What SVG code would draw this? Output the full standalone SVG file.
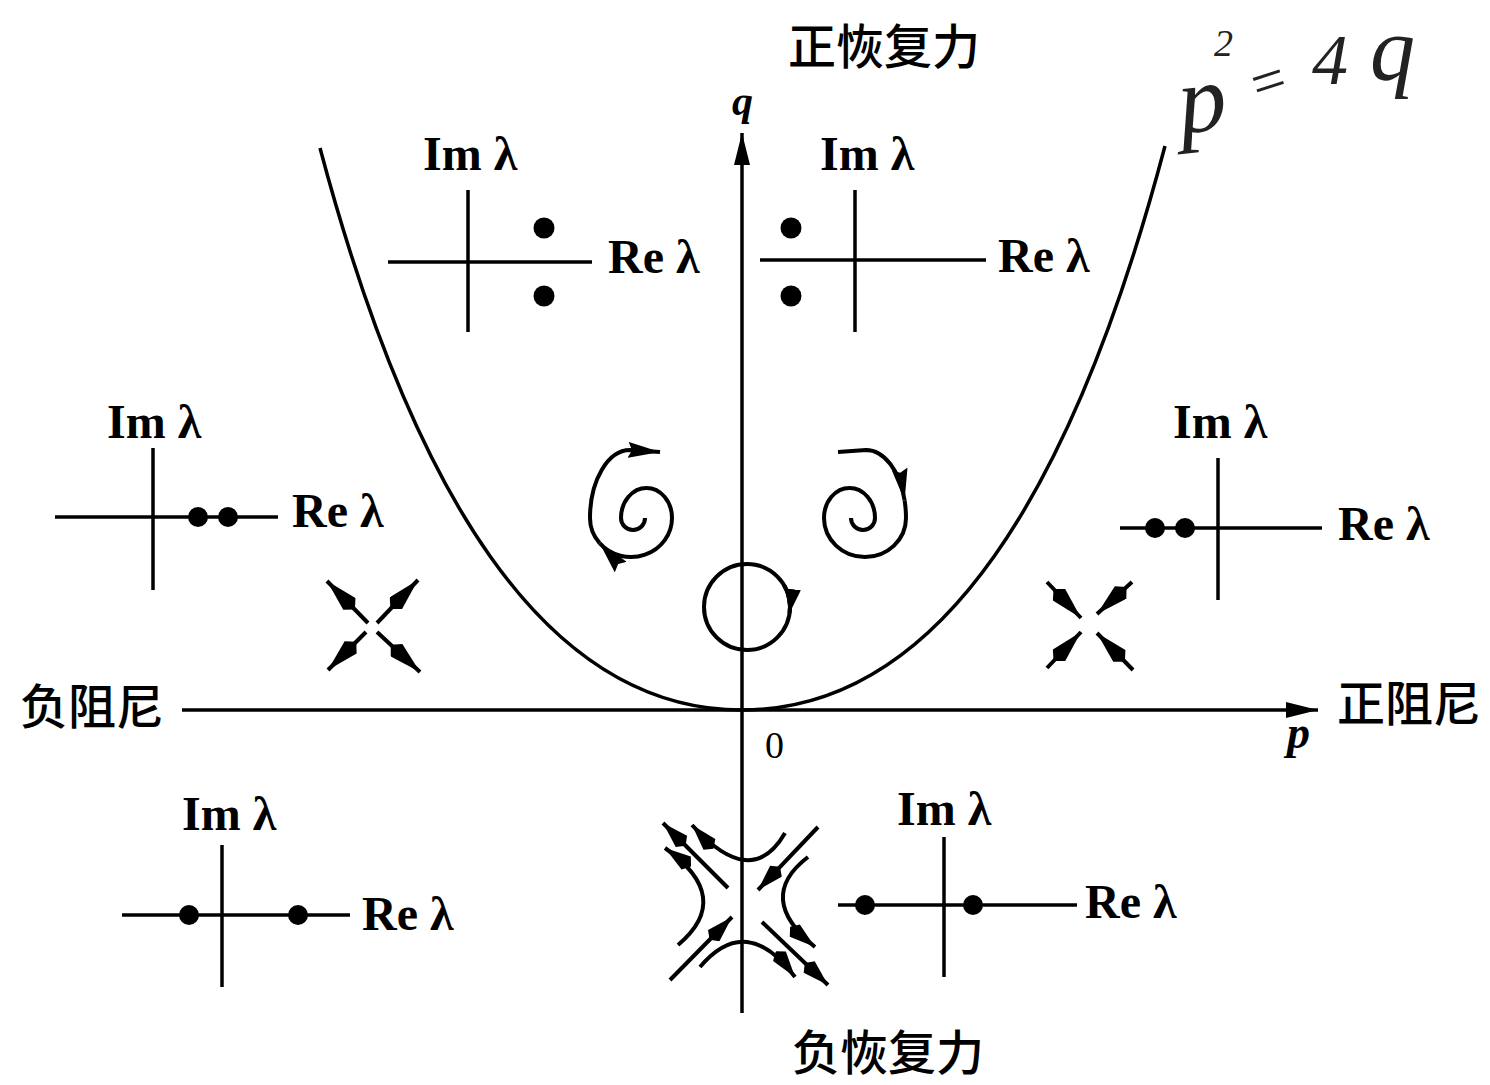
<svg xmlns="http://www.w3.org/2000/svg" width="1490" height="1085" viewBox="0 0 1490 1085">
<style>
.ln{stroke:#000;stroke-width:3.5;fill:none;stroke-linecap:butt}
.tr{stroke:#000;stroke-width:4;fill:none}
.dot{fill:#000}
.lat{font-family:"Liberation Serif",serif;font-weight:bold;font-size:48px;fill:#000}
.it{font-family:"Liberation Serif",serif;font-weight:bold;font-style:italic;fill:#000}
.num{font-family:"Liberation Serif",serif;font-size:38px;fill:#000}
.cjk{font-family:"Liberation Sans","Noto Sans CJK SC",sans-serif;font-size:48px;font-weight:500;fill:#000}
.hw{font-family:"Liberation Serif",serif;font-style:italic;fill:#222}
</style>
<defs>
<marker id="ax" viewBox="0 0 32 16" refX="32" refY="8" markerWidth="32" markerHeight="16" markerUnits="userSpaceOnUse" orient="auto">
<path d="M0,0 L32,8 L0,16 z" fill="#000"/>
</marker>
<marker id="ah" viewBox="0 0 32 16" refX="32" refY="8" markerWidth="32" markerHeight="16" markerUnits="userSpaceOnUse" orient="auto">
<path d="M0,0 L32,8 L0,16 L4,8 z" fill="#000"/>
</marker>
<marker id="an" viewBox="0 0 40 17" refX="40" refY="8.5" markerWidth="40" markerHeight="17" markerUnits="userSpaceOnUse" orient="auto">
<path d="M0,8.5 L8,0 L40,8.5 L8,17 z" fill="#000"/>
</marker>
<marker id="as" viewBox="0 0 32 16" refX="32" refY="8" markerWidth="32" markerHeight="16" markerUnits="userSpaceOnUse" orient="auto">
<path d="M0,8 L6,0 L32,8 L6,16 z" fill="#000"/>
</marker>
<marker id="ac" viewBox="0 0 24 16" refX="24" refY="8" markerWidth="24" markerHeight="16" markerUnits="userSpaceOnUse" orient="auto">
<path d="M0,0 L24,8 L0,16 z" fill="#000"/>
</marker>
</defs>
<rect width="1490" height="1085" fill="#fff"/>

<g id="connectors">
<line class="ln" x1="182" y1="710" x2="1318" y2="710" marker-end="url(#ax)"/>
<line class="ln" x1="742" y1="1013" x2="742" y2="133" marker-end="url(#ax)"/>
<path class="ln" d="M320,148 C410,486 542,710 742,710 C942,710 1075,486 1165,146"/>
</g>

<g id="axis-labels">
<text class="cjk" x="788" y="64">正恢复力</text>
<text class="cjk" x="792" y="1070">负恢复力</text>
<text class="cjk" x="20" y="724">负阻尼</text>
<text class="cjk" x="1337" y="721">正阻尼</text>
<text class="it" x="1287" y="748" font-size="46">p</text>
<text class="it" x="732" y="115" font-size="42">q</text>
<text class="num" x="765" y="758">0</text>
</g>

<g id="handwritten-note">
<text class="hw" x="1180" y="132" font-size="96" transform="rotate(-6 1195 120)">p</text>
<text class="hw" x="1214" y="56" font-size="38">2</text>
<text class="hw" x="1250" y="100" font-size="60" transform="rotate(-18 1272 88)">=</text>
<text class="hw" x="1312" y="84" font-size="72">4</text>
<text class="hw" x="1370" y="80" font-size="90">q</text>
</g>

<g id="eig-top-left">
<line class="ln" x1="468" y1="190" x2="468" y2="332"/>
<line class="ln" x1="388" y1="262" x2="592" y2="262"/>
<circle class="dot" cx="544" cy="228" r="10.5"/>
<circle class="dot" cx="544" cy="296" r="10.5"/>
<text class="lat" x="423" y="170">Im λ</text>
<text class="lat" x="608" y="273">Re λ</text>
</g>

<g id="eig-top-right">
<line class="ln" x1="855" y1="190" x2="855" y2="332"/>
<line class="ln" x1="760" y1="260" x2="986" y2="260"/>
<circle class="dot" cx="791" cy="228" r="10.5"/>
<circle class="dot" cx="791" cy="296" r="10.5"/>
<text class="lat" x="820" y="170">Im λ</text>
<text class="lat" x="998" y="272">Re λ</text>
</g>

<g id="eig-mid-left">
<line class="ln" x1="153" y1="448" x2="153" y2="590"/>
<line class="ln" x1="55" y1="517" x2="278" y2="517"/>
<circle class="dot" cx="198" cy="517" r="10"/>
<circle class="dot" cx="228" cy="517" r="10"/>
<text class="lat" x="107" y="438">Im λ</text>
<text class="lat" x="292" y="527">Re λ</text>
</g>

<g id="eig-mid-right">
<line class="ln" x1="1218" y1="458" x2="1218" y2="600"/>
<line class="ln" x1="1120" y1="528" x2="1322" y2="528"/>
<circle class="dot" cx="1155" cy="528" r="10"/>
<circle class="dot" cx="1185" cy="528" r="10"/>
<text class="lat" x="1173" y="438">Im λ</text>
<text class="lat" x="1338" y="540">Re λ</text>
</g>

<g id="eig-bottom-left">
<line class="ln" x1="222" y1="845" x2="222" y2="987"/>
<line class="ln" x1="122" y1="915" x2="350" y2="915"/>
<circle class="dot" cx="189" cy="915" r="10"/>
<circle class="dot" cx="298" cy="915" r="10"/>
<text class="lat" x="182" y="830">Im λ</text>
<text class="lat" x="362" y="930">Re λ</text>
</g>

<g id="eig-bottom-right">
<line class="ln" x1="944" y1="837" x2="944" y2="977"/>
<line class="ln" x1="838" y1="905" x2="1077" y2="905"/>
<circle class="dot" cx="865" cy="905" r="10"/>
<circle class="dot" cx="973" cy="905" r="10"/>
<text class="lat" x="897" y="825">Im λ</text>
<text class="lat" x="1085" y="918">Re λ</text>
</g>

<g id="unstable-focus">
<path class="tr" d="M645,518 A12 12 0 0 1 621,518 A25.5 30 0 0 1 672,518 A41 39 0 0 1 599.6,543.1" marker-end="url(#ah)"/>
<path class="tr" d="M599.6,543.1 A41 39 0 0 1 590,518 A40 68 0 0 1 630,450 L660,452" marker-end="url(#ah)"/>
</g>

<g id="stable-focus">
<path class="tr" d="M838,452 L866,450 A40 68 0 0 1 904.6,500.4" marker-end="url(#ah)"/>
<path class="tr" d="M904.6,500.4 A40 68 0 0 1 906,518 A41 39 0 0 1 824,518 A25.5 30 0 0 1 875,518 A12 12 0 0 1 851,518"/>
</g>

<g id="center">
<circle class="tr" cx="747" cy="607" r="43"/>
<path class="tr" d="M784.2,585.5 A43 43 0 0 1 789.6,613" marker-end="url(#ac)"/>
</g>

<g id="unstable-node">
<path class="tr" d="M368,623 L327,581" marker-end="url(#an)"/>
<path class="tr" d="M377,623 L418,580" marker-end="url(#an)"/>
<path class="tr" d="M366,632 L328,670" marker-end="url(#an)"/>
<path class="tr" d="M377,632 L420,672" marker-end="url(#an)"/>
</g>

<g id="stable-node">
<path class="tr" d="M1047,582 L1081,618" marker-end="url(#an)"/>
<path class="tr" d="M1132,582 L1097,614" marker-end="url(#an)"/>
<path class="tr" d="M1047,668 L1081,632" marker-end="url(#an)"/>
<path class="tr" d="M1133,670 L1097,633" marker-end="url(#an)"/>
</g>

<g id="saddle">
<path class="tr" d="M728,888 L663,823" marker-end="url(#as)"/>
<path class="tr" d="M818,827 L758,890" marker-end="url(#as)"/>
<path class="tr" d="M670,980 L732,917" marker-end="url(#as)"/>
<path class="tr" d="M762,922 L828,985" marker-end="url(#as)"/>
<path class="tr" d="M785,833 Q751.5,891 692,825" marker-end="url(#as)"/>
<path class="tr" d="M678,945 Q734.5,897.5 665,848" marker-end="url(#as)"/>
<path class="tr" d="M808,857 Q754.5,898 815,947" marker-end="url(#as)"/>
<path class="tr" d="M700,967 Q746.5,912 795,977" marker-end="url(#as)"/>
</g>
</svg>
